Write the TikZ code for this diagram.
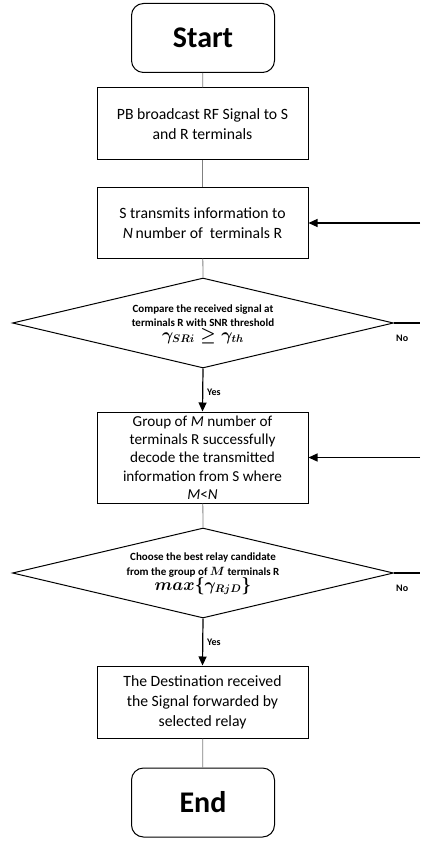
\documentclass[tikz,border=0pt]{standalone}
\usepackage{fontspec}
\setmainfont{Carlito}
\usepackage{amsmath,bm}
\usetikzlibrary{shapes.geometric,arrows.meta}
\begin{document}
\begin{tikzpicture}[x=1pt,y=-1pt,
  term/.style={draw, line width=1pt, rounded corners=12pt, minimum width=143pt, minimum height=69pt, font=\fontsize{30}{32}\selectfont\bfseries},
  proc/.style={draw, line width=1pt, minimum width=211pt, align=center, font=\fontsize{15.7}{20}\selectfont},
  dec/.style={draw, line width=1pt, diamond, minimum width=381pt, minimum height=90pt, inner sep=0pt},
  dtext/.style={align=center, font=\fontsize{11}{14.5}\selectfont\bfseries},
  link/.style={draw=gray, line width=0.8pt},
  arr/.style={line width=1.2pt, -{Triangle[length=9pt,width=8pt]}},
  lab/.style={font=\fontsize{10}{11}\selectfont\bfseries, inner sep=0pt, anchor=west}]
\useasboundingbox (0,0) rectangle (420,842);

\node[term] (start) at (203,38) {Start};
\node[proc, minimum height=72pt] (b1) at (202.5,124) {PB broadcast RF Signal to S\\and R terminals};
\node[proc, minimum height=70pt] (b2) at (202.5,223) {S transmits information to\\\textit{N}\,number of\ \ terminals R};
\node[dec] (d1) at (203,323) {};
\node[dtext] (t1) at (203,324) {Compare the received signal at\\terminals R with SNR threshold\\[-1pt]{\boldmath\fontsize{16}{17}\selectfont $\gamma_{SRi}\geq\gamma_{th}$}};
\node[proc, minimum height=91pt, font=\fontsize{15.2}{18.3}\selectfont] (b3) at (202.5,457.5) {Group of \textit{M} number of\\terminals R successfully\\decode the transmitted\\information from S where\\\textit{M}<\textit{N}};
\node[dec] (d2) at (203,573) {};
\node[dtext] (t2) at (203,574) {Choose the best relay candidate\\from the group of {\boldmath\fontsize{12}{12}\selectfont$M$} terminals R\\[-1pt]{\boldmath\fontsize{16}{17}\selectfont $max\{\gamma_{RjD}\}$}};
\node[proc, minimum height=72pt] (b4) at (202.5,702) {The Destination received\\the Signal forwarded by\\selected relay};
\node[term] (end) at (203,802.5) {End};

\coordinate (fb1) at (420,223);
\coordinate (fb2) at (420,457.5);
\coordinate (no1) at (420,323);
\coordinate (no2) at (420,573);

\draw[link] (start) -- (b1);
\draw[link] (b1) -- (b2);
\draw[link] (b2) -- (d1.north);
\draw[arr] (d1.south) -- (b3.north);
\draw[link] (b3) -- (d2.north);
\draw[arr] (d2.south) -- (b4.north);
\draw[link] (b4) -- (end);
\draw[arr] (fb1) -- (b2.east);
\draw[arr] (fb2) -- (b3.east);
\draw[line width=1.2pt] (d1.east) -- (no1);
\draw[line width=1.2pt] (d2.east) -- (no2);

\node[lab] (y1) at (207,392) {Yes};
\node[lab] (y2) at (207,642) {Yes};
\node[lab] (n1) at (396,338) {No};
\node[lab] (n2) at (396,588) {No};
\end{tikzpicture}
\end{document}
